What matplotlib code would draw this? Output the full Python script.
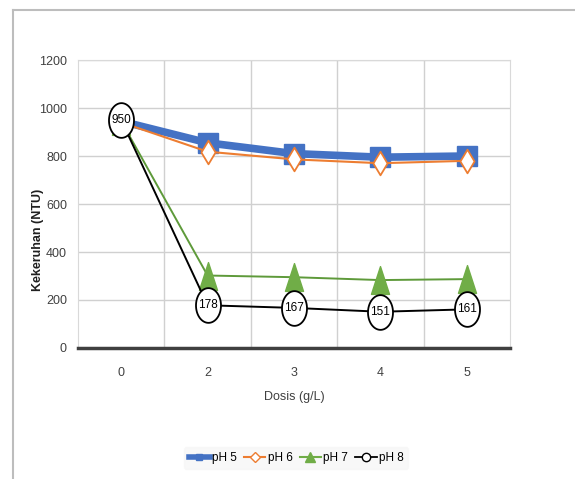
import numpy as np
import matplotlib.pyplot as plt
from matplotlib.path import Path
from matplotlib.lines import Line2D

plt.rcParams['font.family'] = ['Liberation Sans Narrow', 'Liberation Sans', 'DejaVu Sans']

dosis = ["0", "2", "3", "4", "5"]
ph5 = [945, 855, 810, 795, 800]
ph6 = [940, 818, 786, 770, 780]
ph7 = [945, 302, 295, 283, 287]
ph8 = [950, 178, 167, 151, 161]

blue = "#4472C4"
orange = "#ED7D31"
green = "#70AD47"

# tall marker shapes like the Excel original
t = np.linspace(0, 2 * np.pi, 60)
ellipse = Path(np.column_stack([0.72 * np.cos(t), np.sin(t)]), closed=True)
tri = Path([(0, 1), (0.65, -1), (-0.65, -1), (0, 1)], closed=True)
diam = Path([(0, 1), (0.6, 0), (0, -1), (-0.6, 0), (0, 1)], closed=True)

fig = plt.figure(figsize=(5.75, 4.79), dpi=100)
ax = fig.add_axes([0.1357, 0.2735, 0.7513, 0.6012])
x = np.arange(len(dosis))

ax.plot(x, ph5, color=blue, lw=5.5, marker='s', ms=14, zorder=3)
ax.plot(x, ph6, color=orange, lw=1.5, marker=diam, ms=17, mfc='white', mec=orange, mew=1.3, zorder=4)
ax.plot(x, ph7, color="#5E9A3A", lw=1.4, marker=tri, ms=20, mfc=green, mec=green, zorder=5)
ax.plot(x, ph8, color='black', lw=1.4, marker=ellipse, ms=25, mfc='white', mec='black', mew=1.3, zorder=6)
for xi, v in zip(x, ph8):
    ax.text(xi, v, str(v), ha='center', va='center', fontsize=8.5, zorder=7)

ax.set_xlim(-0.5, 4.5)
ax.set_ylim(0, 1200)
ax.set_yticks(range(0, 1201, 200))
ax.set_xticks(x)
ax.set_xticklabels(dosis)
ax.set_xticks(np.arange(0.5, 4.5, 1), minor=True)
ax.grid(True, axis='y', color='#d0d0d0', lw=1)
ax.grid(True, axis='x', which='minor', color='#d0d0d0', lw=1)
ax.tick_params(which='both', length=0, labelsize=9, colors='#404040')
ax.tick_params(axis='x', pad=14)
ax.tick_params(axis='y', pad=8)
for s in ['top', 'right', 'left']:
    ax.spines[s].set_color('#d9d9d9')
ax.spines['bottom'].set_color('#404040')
ax.spines['bottom'].set_linewidth(2.5)
ax.set_axisbelow(True)

ax.set_xlabel("Dosis (g/L)", fontsize=9, color='#404040', labelpad=8)
fig.text(0.066, 0.5, "Kekeruhan (NTU)", rotation=90, ha='center', va='center',
         fontsize=9, fontweight='bold', color='#202020')

handles = [
    Line2D([], [], color=blue, lw=4, marker='s', ms=5),
    Line2D([], [], color=orange, lw=1.5, marker='D', ms=5, mfc='white'),
    Line2D([], [], color=green, lw=1.5, marker='^', ms=7),
    Line2D([], [], color='black', lw=1.3, marker='o', ms=6, mfc='white'),
]
leg = fig.legend(handles, ["pH 5", "pH 6", "pH 7", "pH 8"], loc='center', ncol=4,
                 bbox_to_anchor=(0.515, 0.044), fontsize=8.5, frameon=True,
                 handlelength=1.8, columnspacing=0.6, handletextpad=0.2)
leg.get_frame().set_facecolor('#f7f7f7')
leg.get_frame().set_edgecolor('#f7f7f7')

# outer frame lines
fig.add_artist(Line2D([13 / 575, 1], [1 - 10 / 479, 1 - 10 / 479], color='#bdbdbd', lw=1.5))
fig.add_artist(Line2D([13 / 575, 13 / 575], [0, 1 - 10 / 479], color='#bdbdbd', lw=1.5))

fig.savefig("out.png", dpi=100)
